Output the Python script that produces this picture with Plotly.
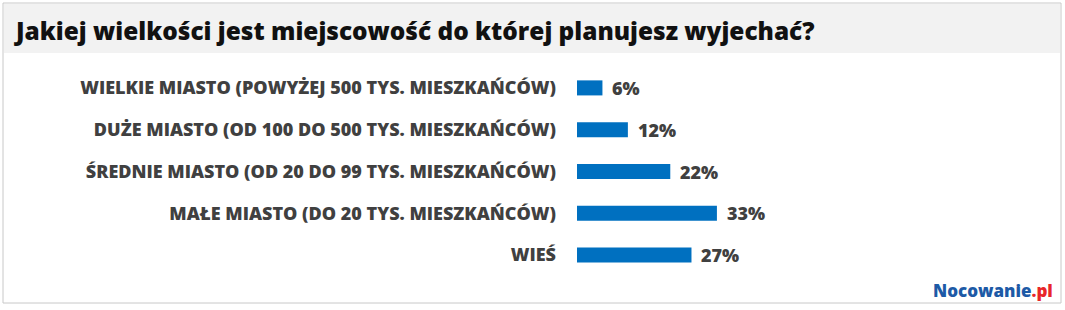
import plotly.graph_objects as go

categories = [
    "WIELKIE MIASTO (POWYŻEJ 500 TYS. MIESZKAŃCÓW)",
    "DUŻE MIASTO (OD 100 DO 500 TYS. MIESZKAŃCÓW)",
    "ŚREDNIE MIASTO (OD 20 DO 99 TYS. MIESZKAŃCÓW)",
    "MAŁE MIASTO (DO 20 TYS. MIESZKAŃCÓW)",
    "WIEŚ",
]
values = [6, 12, 22, 33, 27]
value_labels = ["6%", "12%", "22%", "33%", "27%"]
title_text = "Jakiej wielkości jest miejscowość do której planujesz wyjechać?"

W, H = 1065, 310
ML, MR, MT, MB = 577, 64, 67, 34
PW, PH = W - ML - MR, H - MT - MB

def px(x):
    return (x - ML) / PW

def py(y):
    return 1 - (y - MT) / PH

FONT = "Open Sans"
LABEL_COLOR = "#404040"

fig = go.Figure()
fig.add_trace(go.Bar(
    x=values, y=categories, orientation="h",
    marker=dict(color="#0070c0", line=dict(width=0)),
    hoverinfo="skip",
))

for v, lab, cat in zip(values, value_labels, categories):
    fig.add_annotation(x=v, y=cat, text=lab, showarrow=False,
                       xanchor="left", xshift=8,
                       font=dict(family=FONT, size=18, color=LABEL_COLOR, weight=800))

shapes = [
    dict(type="rect", xref="paper", yref="paper", x0=px(3), x1=px(1061), y0=py(3), y1=py(303),
         line=dict(color="#c8c8c8", width=1), fillcolor="rgba(0,0,0,0)", layer="below"),
    dict(type="rect", xref="paper", yref="paper", x0=px(4), x1=px(1060), y0=py(4), y1=py(53),
         line=dict(width=0), fillcolor="#f2f2f2", layer="below"),
]

fig.add_annotation(xref="paper", yref="paper", x=px(12), y=py(30), xanchor="left", yanchor="middle",
                   text=title_text, showarrow=False,
                   font=dict(family=FONT, size=24.4, color="#111111", weight=800))
fig.add_annotation(xref="paper", yref="paper", x=px(1055), y=py(290), xanchor="right", yanchor="middle",
                   text="Nocowanie<span style='color:#e8262a'>.pl</span>", showarrow=False,
                   font=dict(family=FONT, size=17, color="#1d5aa6", weight=800))

fig.update_layout(
    width=W, height=H,
    margin=dict(l=ML, r=MR, t=MT, b=MB),
    paper_bgcolor="white", plot_bgcolor="rgba(0,0,0,0)",
    showlegend=False, bargap=0.64,
    shapes=shapes,
    xaxis=dict(range=[0, 100], visible=False, fixedrange=True),
    yaxis=dict(autorange="reversed", showgrid=False, zeroline=False, showline=False,
               ticks="", ticklabelstandoff=20,
               tickfont=dict(family=FONT, size=18, color=LABEL_COLOR, weight=800)),
)

fig.write_html("out.html")
